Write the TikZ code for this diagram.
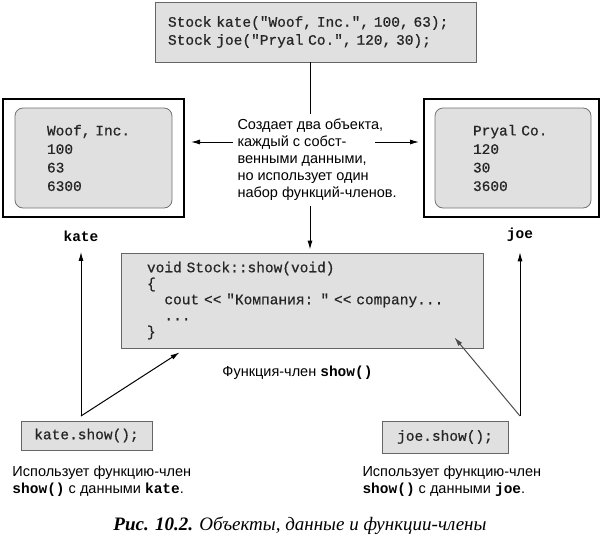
\documentclass[tikz,border=0pt]{standalone}
\usepackage{fontspec}
\setmainfont{Liberation Sans}
\newfontfamily\codefont[Ligatures=TeXOff, UprightFeatures={FakeBold=0.6}]{Liberation Mono}
\newfontfamily\capfont{Liberation Serif}
\usetikzlibrary{arrows.meta}

\begin{document}
\begin{tikzpicture}[x=1pt, y=-1pt, >={Latex[length=9pt, width=5pt]}, line width=1pt,
    codebox/.style={draw=black!60, fill=black!12, line width=0.8pt, inner sep=0pt, align=left,
      text=black!85, font=\codefont\fontsize{14.5}{18}\selectfont},
    objbox/.style={draw, line width=2pt, inner sep=0pt},
    databox/.style={draw=black!55, fill=black!12, line width=0.8pt, rounded corners=8pt, inner sep=0pt,
      align=left, text=black!85, font=\codefont\fontsize{14.5}{18.5}\selectfont},
    txt/.style={inner sep=2pt, align=left, font=\fontsize{14.5}{17.5}\selectfont},
    lbl/.style={inner sep=2pt, font=\codefont\bfseries\fontsize{14.5}{17}\selectfont},
    capt/.style={inner sep=0pt, font=\capfont\itshape\fontsize{19}{22}\selectfont}]
    \useasboundingbox (0,0) rectangle (607,543);
    \node[codebox, minimum width=321pt, minimum height=60pt, text width=295pt] (defs) at (315.5,32)
      {Stock kate("Woof, Inc.", 100, 63);\\Stock joe("Pryal Co.", 120, 30);};
    \node[objbox, minimum width=181pt, minimum height=118pt] (kobj) at (93.5,158) {};
    \node[databox, minimum width=157pt, minimum height=100pt, text width=93pt] (kdata) at (93.5,158)
      {Woof, Inc.\\100\\63\\6300};
    \node[objbox, minimum width=175pt, minimum height=118pt] (jobj) at (511.5,158) {};
    \node[databox, minimum width=156pt, minimum height=100pt, text width=80pt] (jdata) at (513,158)
      {Pryal Co.\\120\\30\\3600};
    \node[txt, inner sep=5pt, anchor=west, font=\fontsize{14.5}{17}\selectfont] (note) at (232,160)
      {Создает два объекта,\\каждый с собст-\\венными данными,\\но использует один\\набор функций-членов.};
    \node[lbl] (klbl) at (81,236) {kate};
    \node[lbl] (jlbl) at (520,235) {joe};
    \node[codebox, minimum width=362pt, minimum height=95pt, text width=310pt, font=\codefont\fontsize{14.5}{16}\selectfont] (showdef) at (302,300.5)
      {void Stock::show(void)\\\{\\\hphantom{xx}cout << "Компания: " << company...\\\hphantom{xx}...\\\}};
    \node[txt] (fname) at (297.5,373) {Функция-член \textbf{\codefont show()}};
    \node[codebox, minimum width=131pt, minimum height=29pt] (kcall) at (86.5,435.5) {kate.show();};
    \node[codebox, minimum width=126pt, minimum height=32pt] (jcall) at (445,437) {joe.show();};
    \node[txt, anchor=north west] (kuse) at (10,463)
      {Использует функцию-член\\\textbf{\codefont show()} с данными \textbf{\codefont kate}.};
    \node[txt, anchor=north west] (juse) at (360,463)
      {Использует функцию-член\\\textbf{\codefont show()} с данными \textbf{\codefont joe}.};
    \node[capt] (capt) at (300,526) {\textbf{Рис. 10.2.} Объекты, данные и функции-члены};
    \coordinate (mid) at (310,0);
    \coordinate (la) at (233,142);
    \coordinate (ra) at (375,142);
    \coordinate (kmeet) at (81,416);
    \coordinate (jmeet) at (520,416);
    \draw (defs.south -| mid) -- (note.north -| mid);
    \draw (note.south -| mid) edge[->, shorten >=3pt] (showdef.north -| mid);
    \draw (la) edge[->, shorten >=6pt] (la -| kobj.east);
    \draw (ra) edge[->, shorten >=4pt] (ra -| jobj.west);
    \draw (kmeet) edge[->, shorten >=8pt] (klbl.south);
    \draw (kmeet) edge[->] ([shift={(59,4)}]showdef.south west);
    \draw (jmeet) edge[->, shorten >=8pt] (jlbl.south);
    \draw (jmeet) edge[->, black!70] ([shift={(-29,-11)}]showdef.south east);
  \end{tikzpicture}
\end{document}
